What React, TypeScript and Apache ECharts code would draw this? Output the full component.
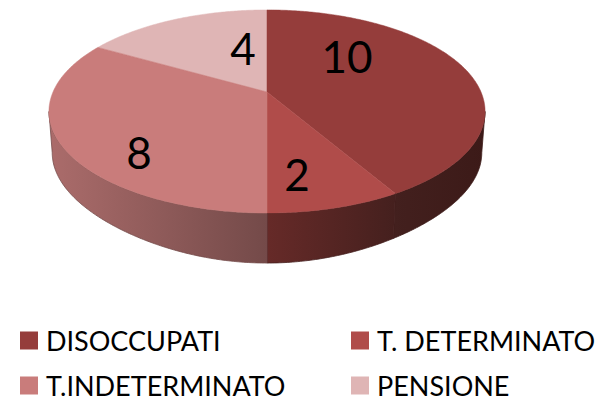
import React, { useEffect, useRef } from "react";
import * as echarts from "echarts";

const categories = ["DISOCCUPATI", "T. DETERMINATO", "T.INDETERMINATO", "PENSIONE"];
const values = [10, 2, 8, 4];
const topColors = ["#953d3b", "#b04c4a", "#c97c7b", "#dfb5b5"];
const wallLeft = ["#43201e", "#662a28", "#ab6c6b", "#dfb5b5"];
const wallRight = ["#3c1a18", "#45201e", "#744a49", "#dfb5b5"];
const labelAt = [[347, 56], [297, 174], [139, 152], [243, 48]];

const FONT = "Lato";
const CX = 267, APEX = 92, RX = 214, RY = 97.8, K = 0.192;
const total = values.reduce((a, b) => a + b, 0);
const starts: number[] = [];
values.reduce((acc, v, i) => { starts[i] = acc; return acc + v; }, 0);

function top(theta: number) {
  const s = Math.sin(theta), c = -Math.cos(theta);
  const w = 1 - K * c;
  return [CX + (RX * s) / w, APEX + (RY * c) / w];
}
function bottom(theta: number) {
  const [x, y] = top(theta);
  const c = -Math.cos(theta);
  return [CX + (x - CX) * 0.985, y + 41 + 9 * Math.pow(Math.max(c, 0), 6)];
}
function arc(a: number, b: number, f: (t: number) => number[]) {
  const n = Math.max(2, Math.ceil(Math.abs(b - a) / 0.01));
  const pts: number[][] = [];
  for (let i = 0; i <= n; i++) pts.push(f(a + ((b - a) * i) / n));
  return pts;
}

const silhouette = Math.acos(-K);

function renderSlice(idx: number) {
  return (_params: any, api: any) => {
    const v = api.value(0);
    const a = (starts[idx] / total) * Math.PI * 2;
    const b = ((starts[idx] + v) / total) * Math.PI * 2;
    const children: any[] = [];
    const wa = Math.max(a, silhouette);
    const wb = Math.min(b, Math.PI * 2 - silhouette);
    if (wb > wa) {
      const poly = [...arc(wa, wb, top), ...arc(wb, wa, bottom)];
      children.push({
        type: "polygon",
        shape: { points: poly },
        style: {
          fill: new echarts.graphic.LinearGradient(0, 0, 1, 0, [
            { offset: 0, color: wallLeft[idx] },
            { offset: 1, color: wallRight[idx] },
          ]),
          stroke: wallRight[idx],
          lineWidth: 0.8,
        },
      });
    }
    children.push({
      type: "polygon",
      shape: { points: [[CX, APEX], ...arc(a, b, top)] },
      style: { fill: topColors[idx], stroke: topColors[idx], lineWidth: 0.5 },
    });
    children.push({
      type: "text",
      x: labelAt[idx][0],
      y: labelAt[idx][1],
      z2: 10,
      style: {
        text: String(v),
        fill: "#000",
        font: `44px ${FONT}`,
        align: "center",
        verticalAlign: "middle",
      },
    });
    return { type: "group", children };
  };
}

export default function App() {
  const ref = useRef<HTMLDivElement>(null);
  useEffect(() => {
    document.body.style.margin = "0";
    const chart = echarts.init(ref.current!, null, { renderer: "svg" });
    const legendPos = [[20, 327], [351, 327], [20, 372], [351, 372]];
    chart.setOption({
      animation: false,
      backgroundColor: "#fff",
      legend: categories.map((c, i) => ({
        data: [c],
        left: legendPos[i][0],
        top: legendPos[i][1],
        icon: "rect",
        itemWidth: 18,
        itemHeight: 18,
        itemGap: 0,
        padding: 0,
        selectedMode: false,
        textStyle: { fontFamily: FONT, fontSize: 27, lineHeight: 20, color: "#000", padding: [0, 0, 0, 3] },
      })),
      series: categories.map((c, i) => ({
        type: "custom",
        name: c,
        coordinateSystem: "none",
        itemStyle: { color: topColors[i] },
        data: [[values[i]]],
        renderItem: renderSlice(i),
        z: i === 3 ? 1 : 2,
      })),
    });
    return () => chart.dispose();
  }, []);
  return <div ref={ref} style={{ width: 609, height: 400 }} />;
}
